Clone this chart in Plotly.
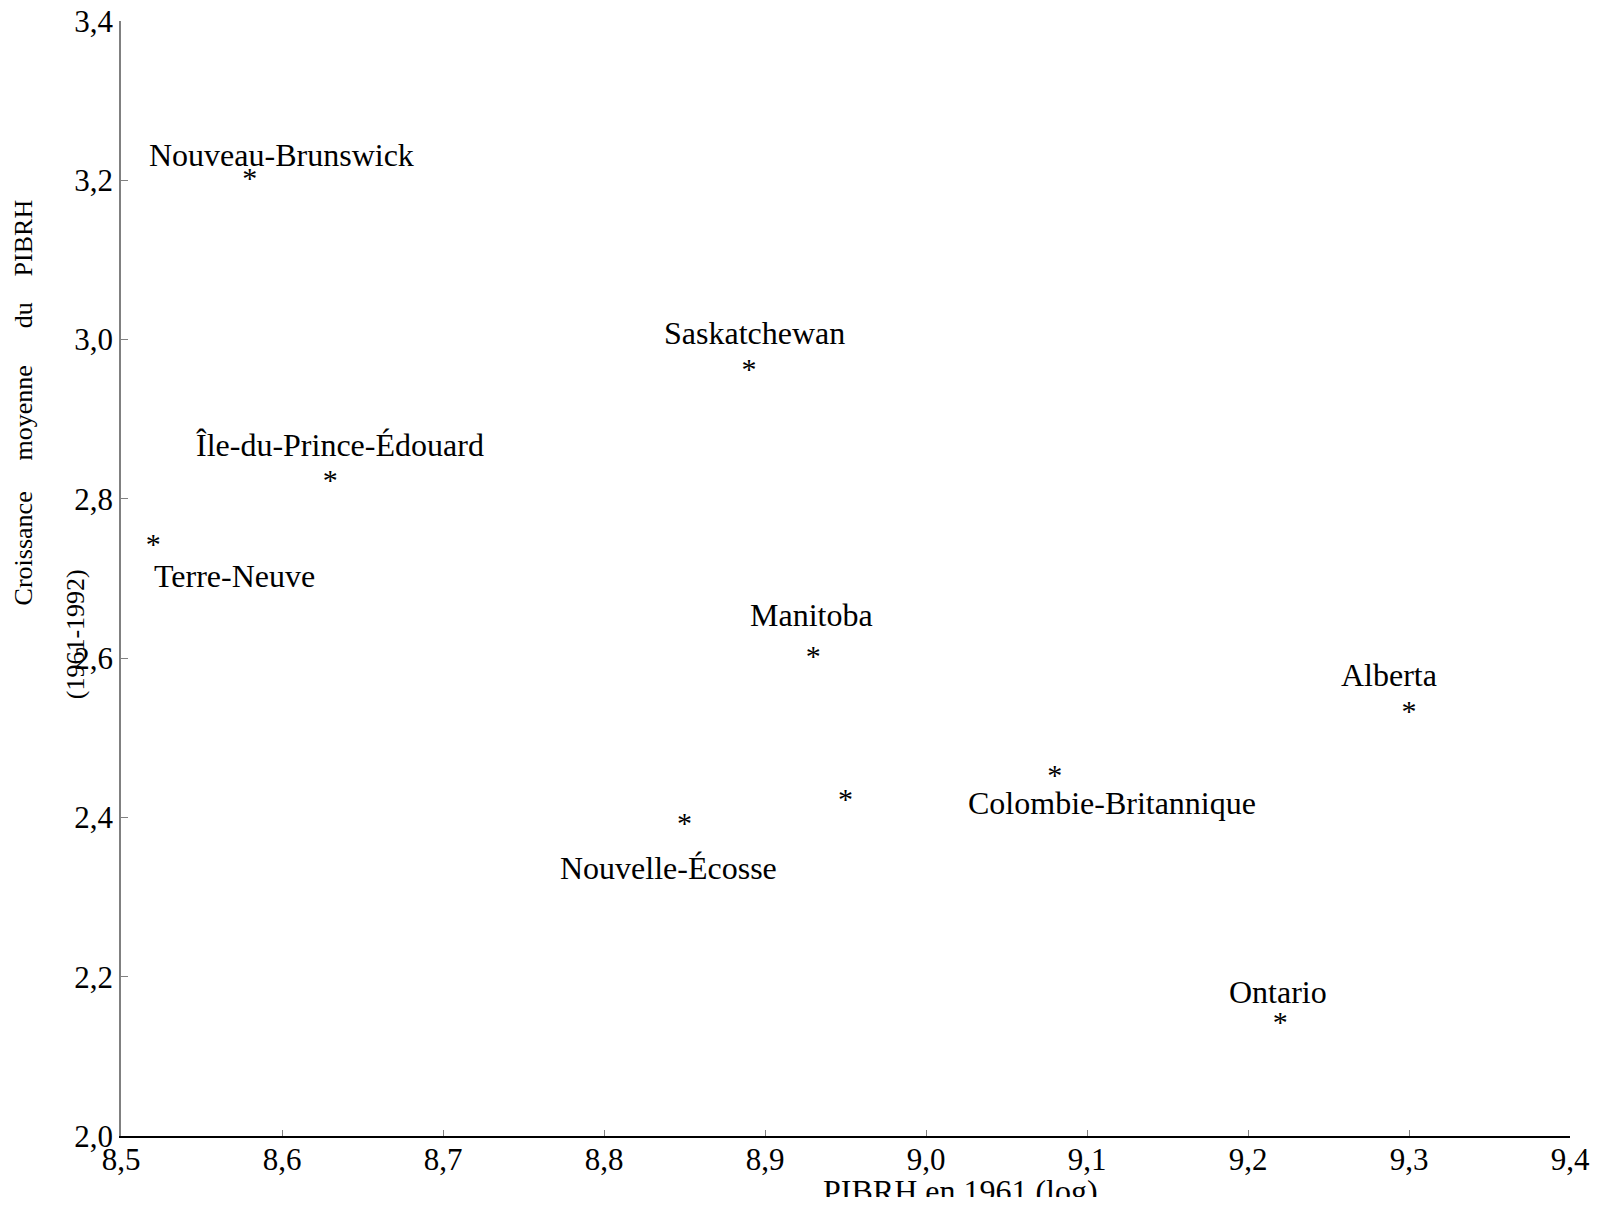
import plotly.graph_objects as go

# Data
provinces = ["Nouveau-Brunswick", "Saskatchewan", "Île-du-Prince-Édouard", "Terre-Neuve",
             "Manitoba", "Alberta", "Colombie-Britannique", "Québec", "Nouvelle-Écosse", "Ontario"]
log_gdp_1961 = [8.58, 8.89, 8.63, 8.52, 8.93, 9.30, 9.08, 8.95, 8.85, 9.22]
growth_1961_1992 = [3.20, 2.96, 2.82, 2.74, 2.60, 2.53, 2.45, 2.42, 2.39, 2.14]
show_label = [True, True, True, True, True, True, True, False, True, True]

x_ticks = [8.5, 8.6, 8.7, 8.8, 8.9, 9.0, 9.1, 9.2, 9.3, 9.4]
y_ticks = [2.0, 2.2, 2.4, 2.6, 2.8, 3.0, 3.2, 3.4]

# label offsets (pixels) relative to the point
label_dx = [32, 6, 10, 81, -2, -20, 57, 0, -16, -2]
label_dy = [25, 38, 38, -29, 43, 39, -25, 0, -43, 33]

FONT = "Liberation Serif, Times New Roman, serif"

fig = go.Figure()
fig.add_trace(go.Scatter(
    x=log_gdp_1961, y=growth_1961_1992, mode="text", text=["*"] * len(provinces),
    textposition="middle center", textfont=dict(family=FONT, size=30, color="black"),
    hoverinfo="skip", showlegend=False, cliponaxis=False))

annotations = []
for name, x, y, show, dx, dy in zip(provinces, log_gdp_1961, growth_1961_1992, show_label, label_dx, label_dy):
    if not show:
        continue
    annotations.append(dict(x=x, y=y, xref="x", yref="y", text=name, showarrow=False,
                            xanchor="center", yanchor="middle", xshift=dx, yshift=dy,
                            font=dict(family=FONT, size=32, color="black")))

# y-axis title (justified look)
ytitle_words = ["Croissance", "moyenne", "du", "PIBRH"]
ytitle_pos = [0.527, 0.648, 0.736, 0.805]
for w, p in zip(ytitle_words, ytitle_pos):
    annotations.append(dict(x=0, y=p, xref="paper", yref="paper", text=w, showarrow=False,
                            textangle=-90, xanchor="center", yanchor="middle", xshift=-98,
                            font=dict(family=FONT, size=26, color="black")))
annotations.append(dict(x=0, y=0.450, xref="paper", yref="paper", text="(1961-1992)", showarrow=False,
                        textangle=-90, xanchor="center", yanchor="middle", xshift=-46,
                        font=dict(family=FONT, size=26, color="black")))
annotations.append(dict(x=0.5797, y=0, xref="paper", yref="paper", text="PIBRH en 1961 (log)",
                        showarrow=False, xanchor="center", yanchor="middle", yshift=-55,
                        font=dict(family=FONT, size=32, color="black")))

fig.update_layout(
    template="none",
    width=1606, height=1197,
    margin=dict(l=121, r=36, t=21, b=61, autoexpand=False),
    paper_bgcolor="white", plot_bgcolor="white",
    separators=", ",
    font=dict(family=FONT, color="black"),
    annotations=annotations,
    xaxis=dict(range=[8.5, 9.4], tickvals=x_ticks, tickformat=".1f", ticks="inside", ticklen=6,
               tickcolor="#808080", tickwidth=1, showline=True, linecolor="black", linewidth=2,
               showgrid=False, zeroline=False, ticklabelstandoff=-5, automargin=False,
               tickfont=dict(family=FONT, size=31, color="black")),
    yaxis=dict(range=[2.0, 3.4], tickvals=y_ticks, tickformat=".1f", ticks="inside", ticklen=7,
               tickcolor="#808080", tickwidth=1, showline=True, linecolor="#808080", linewidth=1.5,
               showgrid=False, zeroline=False, automargin=False,
               tickfont=dict(family=FONT, size=31, color="black")),
)

fig.write_html("out.html", config={"displayModeBar": False},
               post_script="document.body.style.margin='0';document.body.style.overflow='hidden';")
